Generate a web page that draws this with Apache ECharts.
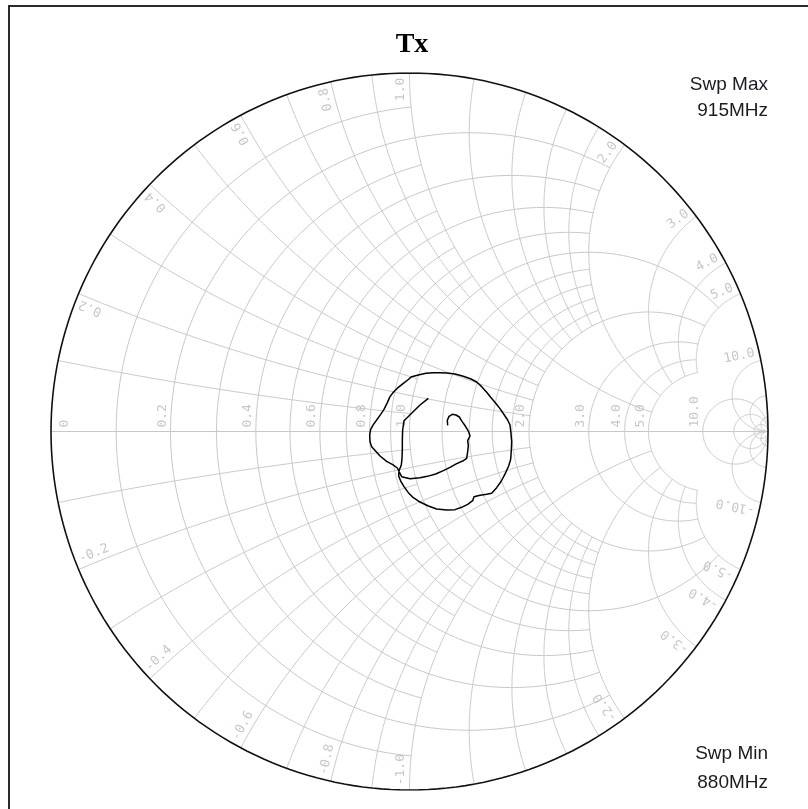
<!DOCTYPE html>
<html><head><meta charset="utf-8">
<script src="https://cdn.jsdelivr.net/npm/echarts@6/dist/echarts.min.js"></script>
<style>html,body{margin:0;padding:0;background:#fff}#c{width:808px;height:809px}</style>
</head><body><div id="c"></div>
<script>
// ---------- text ----------
const titleText = 'Tx';
const sweepMaxText = ['Swp Max', '915MHz'];
const sweepMinText = ['Swp Min', '880MHz'];

// ---------- Smith chart grid values ----------
// resistance circles, grouped by how far (|x|) they are drawn
const resistTo1 = [0.1, 0.3, 0.5, 0.7, 0.9];
const resistTo2 = [0.2, 0.4, 0.6, 0.8, 1.2, 1.4, 1.6, 1.8];
const resistTo5 = [1, 2, 3, 4, 5];
const resistFull = [10, 20, 50];
// reactance arcs, grouped by how far (r) they are drawn
const reactTo1 = [0.1, 0.3, 0.5, 0.7, 0.9];
const reactTo2 = [0.2, 0.4, 0.6, 0.8, 1.2, 1.4, 1.6, 1.8];
const reactTo5 = [1, 2, 3, 4, 5];
const reactFull = [10, 20, 50];
// labels
const resistLabels = [0, 0.2, 0.4, 0.6, 0.8, 1, 2, 3, 4, 5, 10];
const reactLabels = [0.2, 0.4, 0.6, 0.8, 1, 2, 3, 4, 5, 10];

// ---------- trace: reflection coefficient (real / imaginary), 880 -> 915 MHz ----------
const gammaRe = [0.0525,0.0293,0.0060,-0.0153,-0.0191,-0.0200,-0.0200,-0.0209,-0.0228,-0.0293,
 -0.0302,-0.0246,-0.0153,-0.0033,0.0107,0.0293,0.0525,0.0758,0.1037,0.1269,
 0.1455,0.1623,0.1762,0.1799,0.1967,0.2153,0.2292,0.2431,0.2562,0.2673,
 0.2766,0.2822,0.2841,0.2850,0.2831,0.2803,0.2738,0.2645,0.2524,0.2394,
 0.2264,0.2153,0.2013,0.1874,0.1715,0.1502,0.1269,0.1037,0.0851,0.0665,
 0.0460,0.0274,0.0060,-0.0051,-0.0172,-0.0312,-0.0451,-0.0544,-0.0618,-0.0711,
 -0.0804,-0.0916,-0.1009,-0.1083,-0.1111,-0.1102,-0.1055,-0.0953,-0.0823,-0.0637,
 -0.0469,-0.0339,-0.0284,-0.0218,0.0014,0.0293,0.0497,0.0730,0.0944,0.1130,
 0.1316,0.1483,0.1595,0.1623,0.1641,0.1623,0.1688,0.1650,0.1557,0.1464,
 0.1390,0.1297,0.1195,0.1102,0.1055,0.1065];
const gammaIm = [0.0925,0.0739,0.0507,0.0302,0.0042,-0.0237,-0.0516,-0.0748,-0.0934,-0.1093,
 -0.1241,-0.1381,-0.1539,-0.1706,-0.1846,-0.1967,-0.2078,-0.2162,-0.2190,-0.2180,
 -0.2115,-0.2032,-0.1929,-0.1818,-0.1781,-0.1753,-0.1725,-0.1567,-0.1381,-0.1167,
 -0.0962,-0.0776,-0.0516,-0.0284,-0.0051,0.0181,0.0321,0.0460,0.0637,0.0804,
 0.0953,0.1093,0.1251,0.1381,0.1464,0.1539,0.1604,0.1632,0.1641,0.1641,
 0.1623,0.1585,0.1529,0.1437,0.1344,0.1232,0.1093,0.0972,0.0804,0.0618,
 0.0479,0.0321,0.0191,0.0060,-0.0098,-0.0284,-0.0423,-0.0535,-0.0683,-0.0832,
 -0.0925,-0.1018,-0.1130,-0.1260,-0.1316,-0.1288,-0.1251,-0.1186,-0.1093,-0.0999,
 -0.0897,-0.0823,-0.0748,-0.0563,-0.0395,-0.0256,-0.0126,-0.0005,0.0153,0.0284,
 0.0404,0.0460,0.0479,0.0423,0.0312,0.0172];

// ---------- geometry helpers (impedance -> reflection coefficient) ----------
function z2g(r, x) {
  const den = (r + 1) * (r + 1) + x * x;
  return [(r * r - 1 + x * x) / den, 2 * x / den];
}
function norm(a) { while (a < 0) a += 2 * Math.PI; while (a >= 2 * Math.PI) a -= 2 * Math.PI; return a; }
function resistArc(r, xm) {
  const c = r / (r + 1), rho = 1 / (r + 1);
  let p1 = 0;
  if (isFinite(xm)) { const g = z2g(r, xm); p1 = Math.atan2(g[1], g[0] - c); }
  const p2 = 2 * Math.PI - p1, n = 240, pts = [];
  for (let i = 0; i <= n; i++) { const p = p1 + (p2 - p1) * i / n; pts.push([c + rho * Math.cos(p), rho * Math.sin(p)]); }
  return pts;
}
function reactArc(x, rm) {
  const R = 1 / x, gs = z2g(0, x);
  const ps = norm(Math.atan2(gs[1] - R, gs[0] - 1));
  let pe = 1.5 * Math.PI;
  if (isFinite(rm)) { const ge = z2g(rm, x); pe = norm(Math.atan2(ge[1] - R, ge[0] - 1)); }
  const n = 200, up = [], dn = [];
  for (let i = 0; i <= n; i++) {
    const p = ps + (pe - ps) * i / n;
    const gx = 1 + R * Math.cos(p), gy = R + R * Math.sin(p);
    up.push([gx, gy]); dn.push([gx, -gy]);
  }
  return [up, dn];
}

const gridLines = [];
resistTo1.forEach(r => gridLines.push({coords: resistArc(r, 1)}));
resistTo2.forEach(r => gridLines.push({coords: resistArc(r, 2)}));
resistTo5.forEach(r => gridLines.push({coords: resistArc(r, 5)}));
resistFull.forEach(r => gridLines.push({coords: resistArc(r, Infinity)}));
const addReact = (x, rm) => reactArc(x, rm).forEach(a => gridLines.push({coords: a}));
reactTo1.forEach(x => addReact(x, 1));
reactTo2.forEach(x => addReact(x, 2));
reactTo5.forEach(x => addReact(x, 5));
reactFull.forEach(x => addReact(x, Infinity));
gridLines.push({coords: [[-1, 0], [1, 0]]});

const rimLine = [{coords: resistArc(0, Infinity)}];

const fmt = v => v === 0 ? '0' : v.toFixed(1);
const labelColor = '#b5b9c4';
const labelFont = {fontFamily: 'DejaVu Sans Mono', fontSize: 13, color: labelColor};
const labelData = [];
resistLabels.forEach(r => {
  const g = (r - 1) / (r + 1);
  labelData.push({
    value: r === 0 ? [g + 0.02, 0.011] : [g - 0.004, 0.011],
    label: Object.assign({show: true, position: 'inside', formatter: fmt(r), rotate: 90,
      align: 'left', verticalAlign: r === 0 ? 'top' : 'bottom'}, labelFont)
  });
});
reactLabels.forEach(x => {
  const g = z2g(0, x);
  const th = Math.atan2(g[1], g[0]);
  const d = 0.006, k = 0.987;
  labelData.push({
    value: [k * Math.cos(th + d), k * Math.sin(th + d)],
    label: Object.assign({show: true, position: 'inside', formatter: fmt(x), rotate: th * 180 / Math.PI,
      align: 'right', verticalAlign: 'bottom'}, labelFont)
  });
  const tb = -th;
  labelData.push({
    value: [k * Math.cos(tb - d), k * Math.sin(tb - d)],
    label: Object.assign({show: true, position: 'inside', formatter: '-' + fmt(x), rotate: 180 + tb * 180 / Math.PI,
      align: 'left', verticalAlign: 'bottom'}, labelFont)
  });
});

const trace = gammaRe.map((v, i) => [v, gammaIm[i]]);

const chart = echarts.init(document.getElementById('c'), null, {renderer: 'canvas'});
chart.setOption({
  backgroundColor: '#ffffff',
  animation: false,
  grid: {left: 51, top: 73, width: 717, height: 717},
  xAxis: {type: 'value', min: -1, max: 1, show: false},
  yAxis: {type: 'value', min: -1, max: 1, show: false},
  graphic: [
    {type: 'rect', shape: {x: 9, y: 6, width: 830, height: 830}, style: {fill: 'none', stroke: '#2a2a2a', lineWidth: 2}, silent: true},
    {type: 'text', x: 412, y: 45, style: {text: titleText, textAlign: 'center', textVerticalAlign: 'middle',
      font: 'bold 28px "Liberation Serif", "Times New Roman", serif', fill: '#000'}},
    {type: 'text', x: 768, y: 85, style: {text: sweepMaxText[0], textAlign: 'right', textVerticalAlign: 'middle', font: '19px "Liberation Sans", Arial, sans-serif', fill: '#1b1b24'}},
    {type: 'text', x: 768, y: 111, style: {text: sweepMaxText[1], textAlign: 'right', textVerticalAlign: 'middle', font: '19px "Liberation Sans", Arial, sans-serif', fill: '#1b1b24'}},
    {type: 'text', x: 768, y: 754, style: {text: sweepMinText[0], textAlign: 'right', textVerticalAlign: 'middle', font: '19px "Liberation Sans", Arial, sans-serif', fill: '#1b1b24'}},
    {type: 'text', x: 768, y: 783, style: {text: sweepMinText[1], textAlign: 'right', textVerticalAlign: 'middle', font: '19px "Liberation Sans", Arial, sans-serif', fill: '#1b1b24'}}
  ],
  series: [
    {type: 'lines', coordinateSystem: 'cartesian2d', polyline: true, silent: true, z: 1,
      lineStyle: {color: '#c8c8c8', width: 1, opacity: 1}, data: gridLines},
    {type: 'lines', coordinateSystem: 'cartesian2d', polyline: true, silent: true, z: 2,
      lineStyle: {color: '#111', width: 1.6, opacity: 1}, data: rimLine},
    {type: 'scatter', symbolSize: 0, silent: true, z: 3, data: labelData},
    {type: 'line', data: trace, showSymbol: false, symbol: 'none', z: 4, silent: true,
      lineStyle: {color: '#000', width: 1.5}}
  ]
});
</script>
</body></html>
